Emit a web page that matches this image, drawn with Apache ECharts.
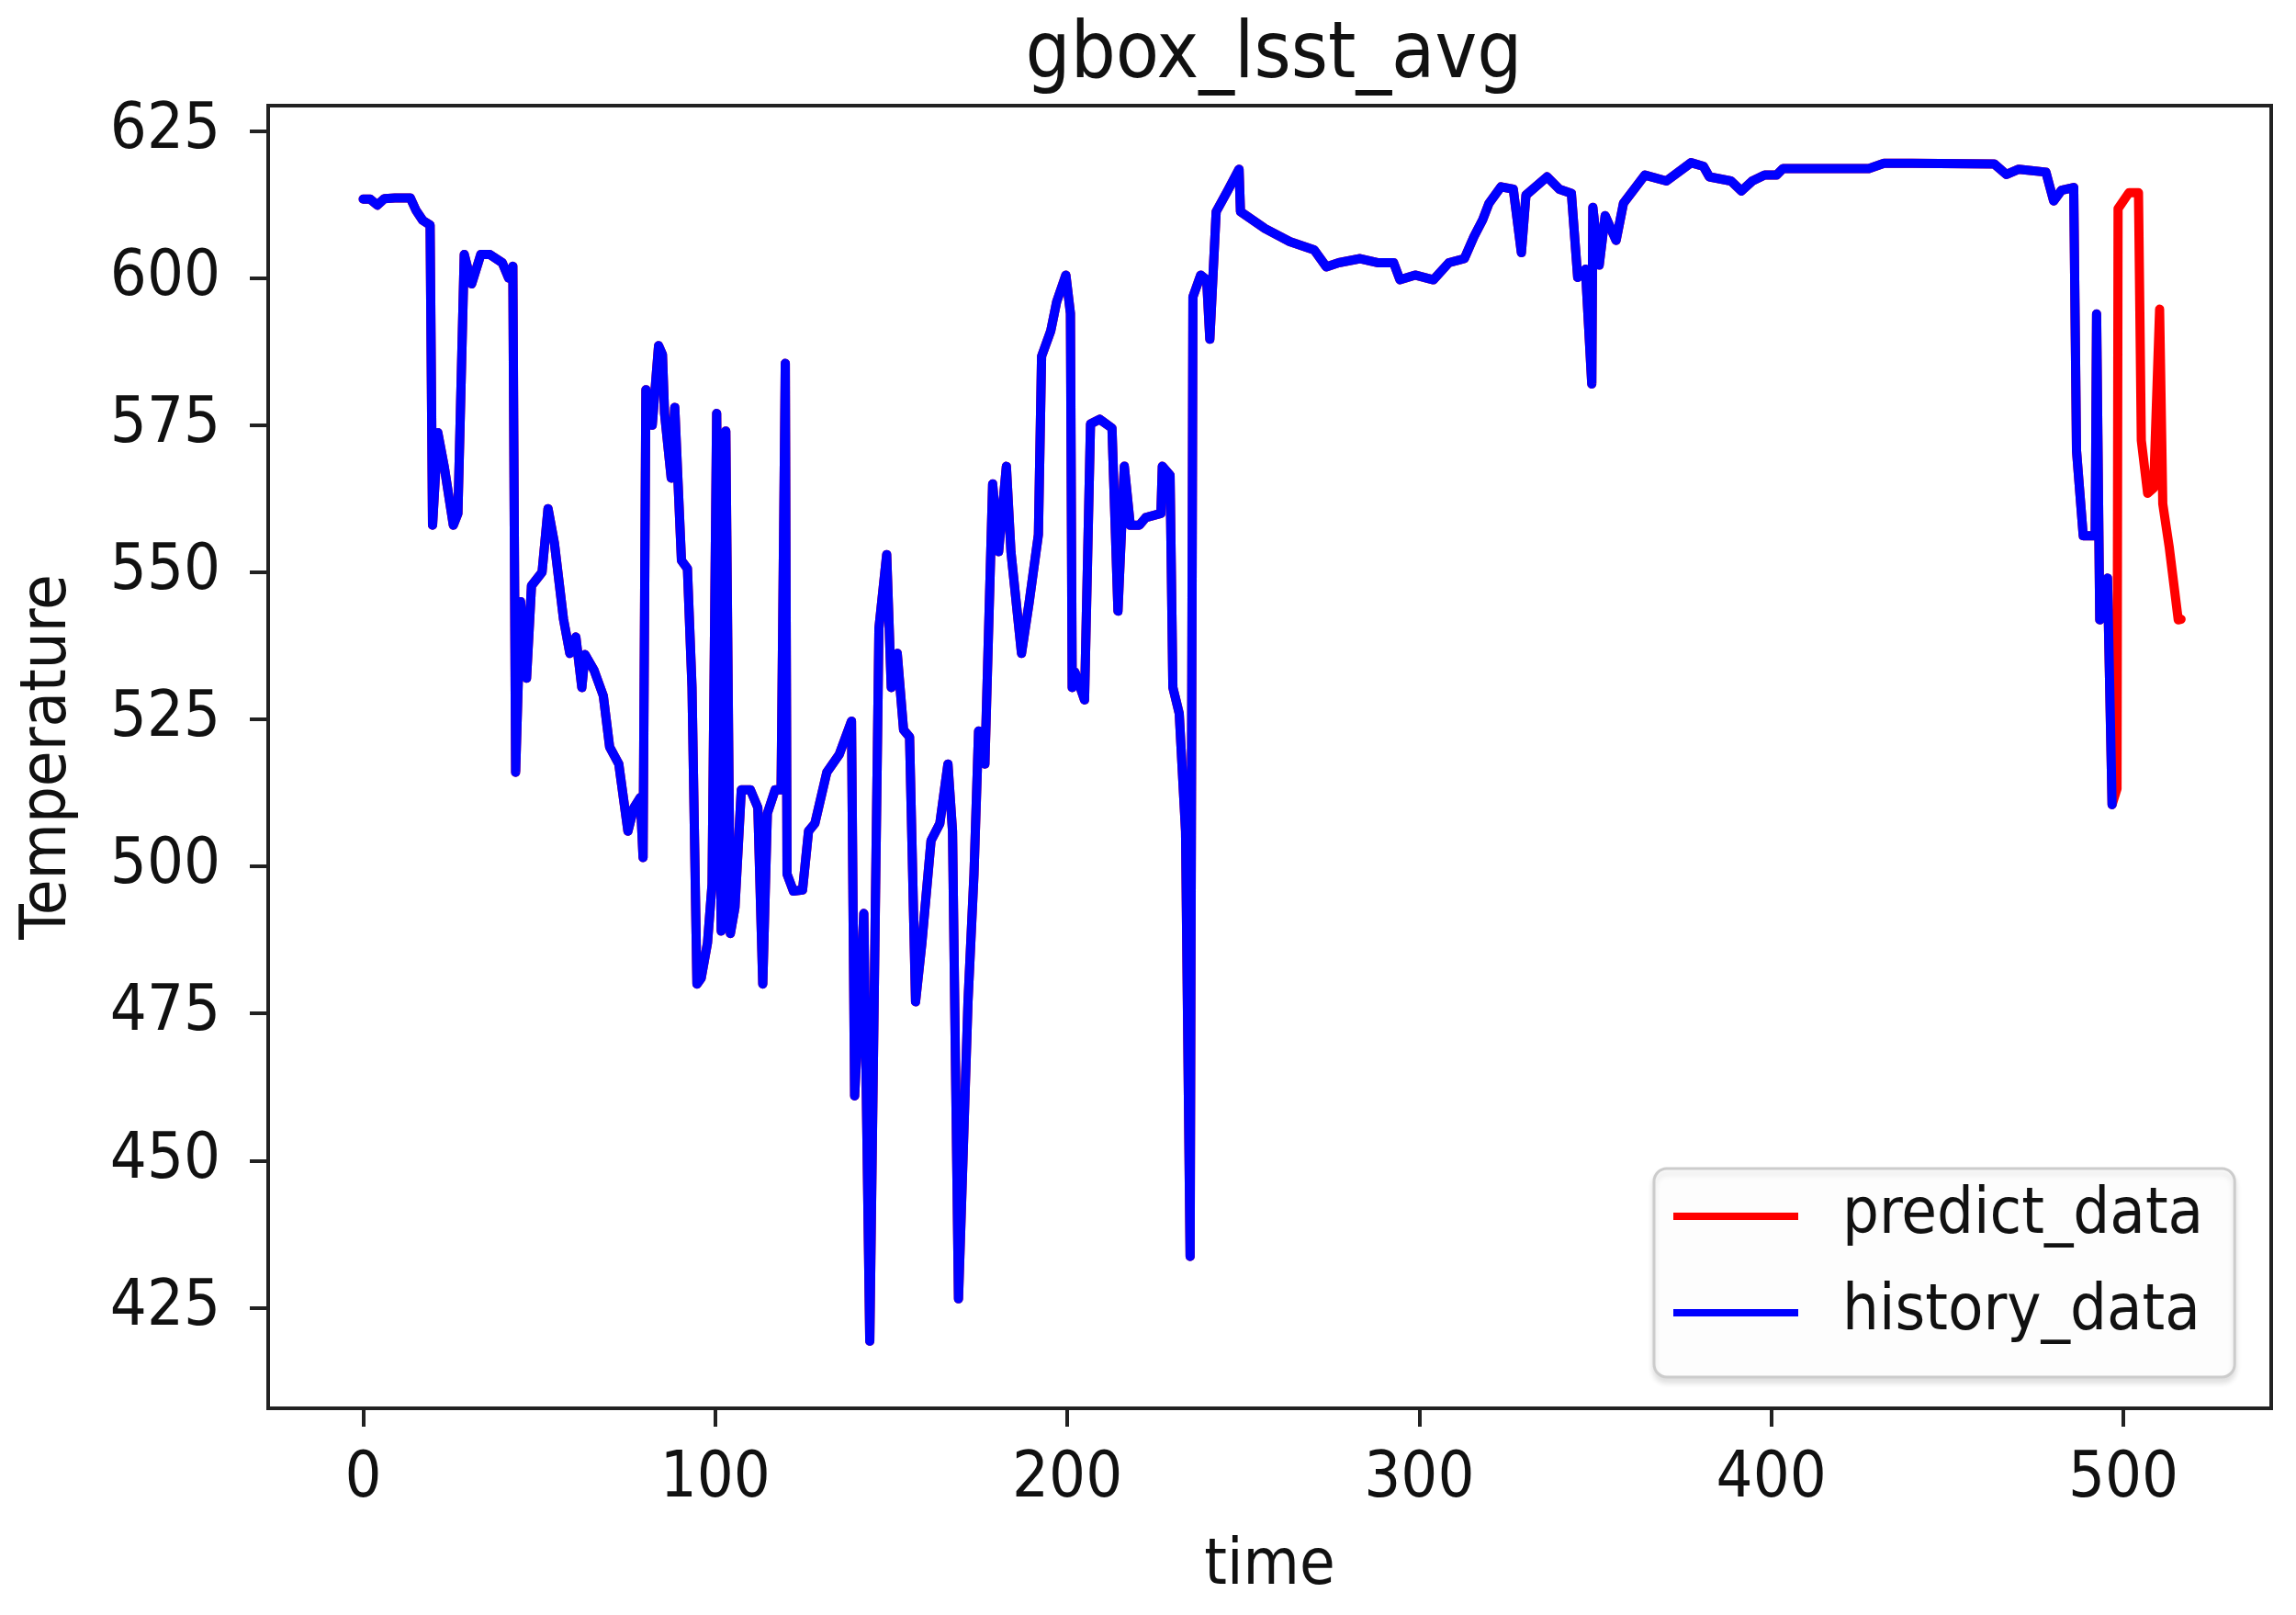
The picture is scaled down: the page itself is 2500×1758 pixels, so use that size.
<!DOCTYPE html>
<html>
<head>
<meta charset="utf-8">
<title>gbox_lsst_avg</title>
<script src="https://cdn.jsdelivr.net/npm/echarts@6/dist/echarts.min.js"></script>
<style>
  html, body { margin: 0; padding: 0; background: #fff; }
  #chart { width: 2500px; height: 1758px; }
</style>
</head>
<body>
<div id="chart"></div>
<script>
// [time, temperature]
const historyPoints = [
  [0, 613.4], [2, 613.4], [4, 612.4], [6, 613.5], [9, 613.6], [13.4, 613.6], [15, 611.5], [16.9, 609.8],
  [19, 609], [19.7, 558], [21.2, 573.7], [23, 568], [25.6, 558], [26.9, 560], [28.7, 604], [30.8, 599],
  [33.4, 604], [36, 604], [39.5, 602.6], [41.3, 600], [42.5, 602], [43.3, 516], [44.7, 545], [46.4, 532],
  [47.8, 547.7], [50.8, 550], [52.5, 560.8], [54.3, 555], [56.9, 542], [58.7, 536.2], [60.4, 539], [62.1, 530.4],
  [63, 536], [65.6, 533.3], [68.2, 529], [70, 520.3], [72.6, 517.4], [75.2, 506], [76.9, 510], [78.7, 511.7],
  [79.5, 501.5], [80.3, 581], [82.1, 575], [83.9, 588.5], [85, 587], [85.6, 577], [87.5, 566], [88.5, 578],
  [90.4, 552], [92.1, 550.6], [93.4, 530.4], [94.8, 480], [96, 481], [97.8, 487], [99.1, 497], [100.4, 577],
  [101.7, 489], [103, 574], [104.3, 488.6], [105.6, 493], [107.4, 513], [110, 513], [112.1, 510], [113.5, 480],
  [114.8, 509], [117, 513], [118.7, 513], [119.9, 585.5], [120.4, 498.7], [122.2, 495.8], [124.8, 496], [126.5, 506],
  [128.3, 507.3], [131.7, 516], [135.2, 519], [138.7, 524.7], [139.6, 461], [142.2, 492], [143.9, 419.3], [146.5, 540.5],
  [148.7, 553], [150, 530.4], [151.7, 536.2], [153.5, 523.2], [155.2, 522], [156.9, 477], [158.7, 487], [161.3, 504.4],
  [163.8, 507.3], [166.1, 517.4], [167.4, 506], [169.1, 426.5], [171.8, 477], [173.5, 498.7], [174.8, 523], [176.6, 517.4],
  [178.8, 565], [180.5, 553.5], [182.7, 568], [184, 553.5], [187, 536.2], [189.2, 545], [191.8, 556.4], [192.7, 586.7],
  [195.3, 591], [197, 596], [199.6, 600.5], [200.9, 594], [201.4, 530.4], [202.2, 533], [204.9, 528.3], [206.6, 575.2],
  [209.2, 576], [212.7, 574.5], [214.4, 543.4], [216.2, 568], [217.9, 558], [220.5, 558], [222.3, 559.3], [226.6, 560],
  [227, 568], [229.2, 566.5], [230, 530.4], [231.8, 526], [233.6, 506], [234.9, 433.7], [235.7, 596.8], [237.9, 600.5],
  [239.6, 599.7], [240.5, 589.6], [242.3, 611.3], [245.7, 615], [248.8, 618.5], [249.2, 611.3], [256.2, 608.4], [263.2, 606.2],
  [270.1, 604.8], [273.6, 601.9], [277.1, 602.6], [283.2, 603.3], [288.4, 602.6], [292.7, 602.6], [294.5, 599.7], [298.8, 600.5],
  [304, 599.7], [308.4, 602.6], [312.8, 603.3], [315.5, 607], [318, 609.9], [319.8, 612.7], [323.2, 615.5], [326.7, 615.1],
  [329, 604.3], [330.3, 614.1], [336.3, 617.2], [339.8, 615.1], [343.2, 614.4], [345, 600.1], [347.2, 601.5], [349, 582],
  [349.3, 612], [351.1, 602.2], [352.8, 610.6], [355.9, 606.4], [358, 612.7], [364.1, 617.5], [370.2, 616.5], [377.2, 619.6],
  [380.7, 619], [382.4, 617.2], [388.5, 616.5], [391.5, 614.8], [394.6, 616.5], [398.1, 617.5], [401.5, 617.5], [403.3, 618.6],
  [410.3, 618.6], [427.7, 618.6], [432, 619.5], [440, 619.5], [463.3, 619.4], [466.8, 617.6], [470.3, 618.5], [478, 618],
  [480.2, 613.1], [482.4, 614.9], [485.9, 615.4], [486.7, 570.6], [488.6, 556.2], [492, 556.2], [492.4, 593.9], [493.3, 541.9],
  [495.5, 549], [496.8, 510.5]
];

// prediction follows history, then carries on past its end
const predictTail = [
  [498.2, 513.2], [498.5, 611.8], [501.6, 614.5], [504.3, 614.5], [505.1, 572.4], [506.9, 563.4], [508.6, 564.3],
  [510.3, 594.7], [511.2, 561.6], [512.1, 558], [513, 554.4], [515.6, 541.9], [516.4, 542]
];
const predictPoints = historyPoints.concat(predictTail);

const xTicks = [0, 100, 200, 300, 400, 500];
const yTicks = [425, 450, 475, 500, 525, 550, 575, 600, 625];

const FONT = "'DejaVu Sans Condensed', 'DejaVu Sans', sans-serif";
const INK = "#222";

const chart = echarts.init(document.getElementById("chart"), null, { renderer: "canvas" });

const option = {
  animation: false,
  backgroundColor: "#ffffff",
  title: {
    text: "gbox_lsst_avg",
    left: 1382,
    textAlign: "center",
    top: 14,
    textStyle: { fontFamily: FONT, fontSize: 86, fontWeight: "normal", color: "#111", lineHeight: 86 },
  },
  legend: {
    orient: "vertical",
    left: 1801,
    top: 1272,
    padding: [17, 34, 35, 21],
    itemGap: 35,
    itemWidth: 136,
    itemHeight: 8,
    icon: "rect",
    backgroundColor: "rgba(255,255,255,0.9)",
    borderColor: "#cccccc",
    borderWidth: 3,
    borderRadius: 14,
    shadowColor: "rgba(0,0,0,0.12)",
    shadowBlur: 6,
    shadowOffsetY: 5,
    textStyle: { fontFamily: FONT, fontSize: 70, color: "#111", lineHeight: 70, padding: [0, 0, 0, 43] },
    data: ["predict_data", "history_data"],
  },
  grid: {
    left: 292,
    top: 115,
    right: 27,
    bottom: 225,
    show: true,
    borderColor: INK,
    borderWidth: 4,
    backgroundColor: "transparent",
  },
  xAxis: {
    type: "value",
    min: -27,
    max: 542,
    name: "time",
    nameLocation: "middle",
    nameGap: 138,
    nameTextStyle: { fontFamily: FONT, fontSize: 70, color: "#111", lineHeight: 70 },
    axisLine: { show: true, onZero: false, lineStyle: { color: INK, width: 4 } },
    axisTick: { show: true, length: 20, lineStyle: { color: INK, width: 4 }, customValues: xTicks },
    axisLabel: { margin: 43, fontFamily: FONT, fontSize: 70, color: "#111", lineHeight: 70, customValues: xTicks },
    splitLine: { show: false },
  },
  yAxis: {
    type: "value",
    min: 407.9,
    max: 629.3,
    name: "Temperature",
    nameLocation: "middle",
    nameGap: 204,
    nameTextStyle: { fontFamily: FONT, fontSize: 70, color: "#111", lineHeight: 70 },
    axisLine: { show: true, onZero: false, lineStyle: { color: INK, width: 4 } },
    axisTick: { show: true, length: 20, lineStyle: { color: INK, width: 4 }, customValues: yTicks },
    axisLabel: { margin: 52, fontFamily: FONT, fontSize: 70, color: "#111", lineHeight: 70, customValues: yTicks },
    splitLine: { show: false },
  },
  series: [
    {
      name: "predict_data",
      type: "line",
      data: predictPoints,
      showSymbol: false,
      color: "#ff0000",
      lineStyle: { color: "#ff0000", width: 10, cap: "round", join: "round" },
    },
    {
      name: "history_data",
      type: "line",
      data: historyPoints,
      showSymbol: false,
      color: "#0000ff",
      lineStyle: { color: "#0000ff", width: 10, cap: "round", join: "round" },
    },
  ],
};

chart.setOption(option);
</script>
</body>
</html>
